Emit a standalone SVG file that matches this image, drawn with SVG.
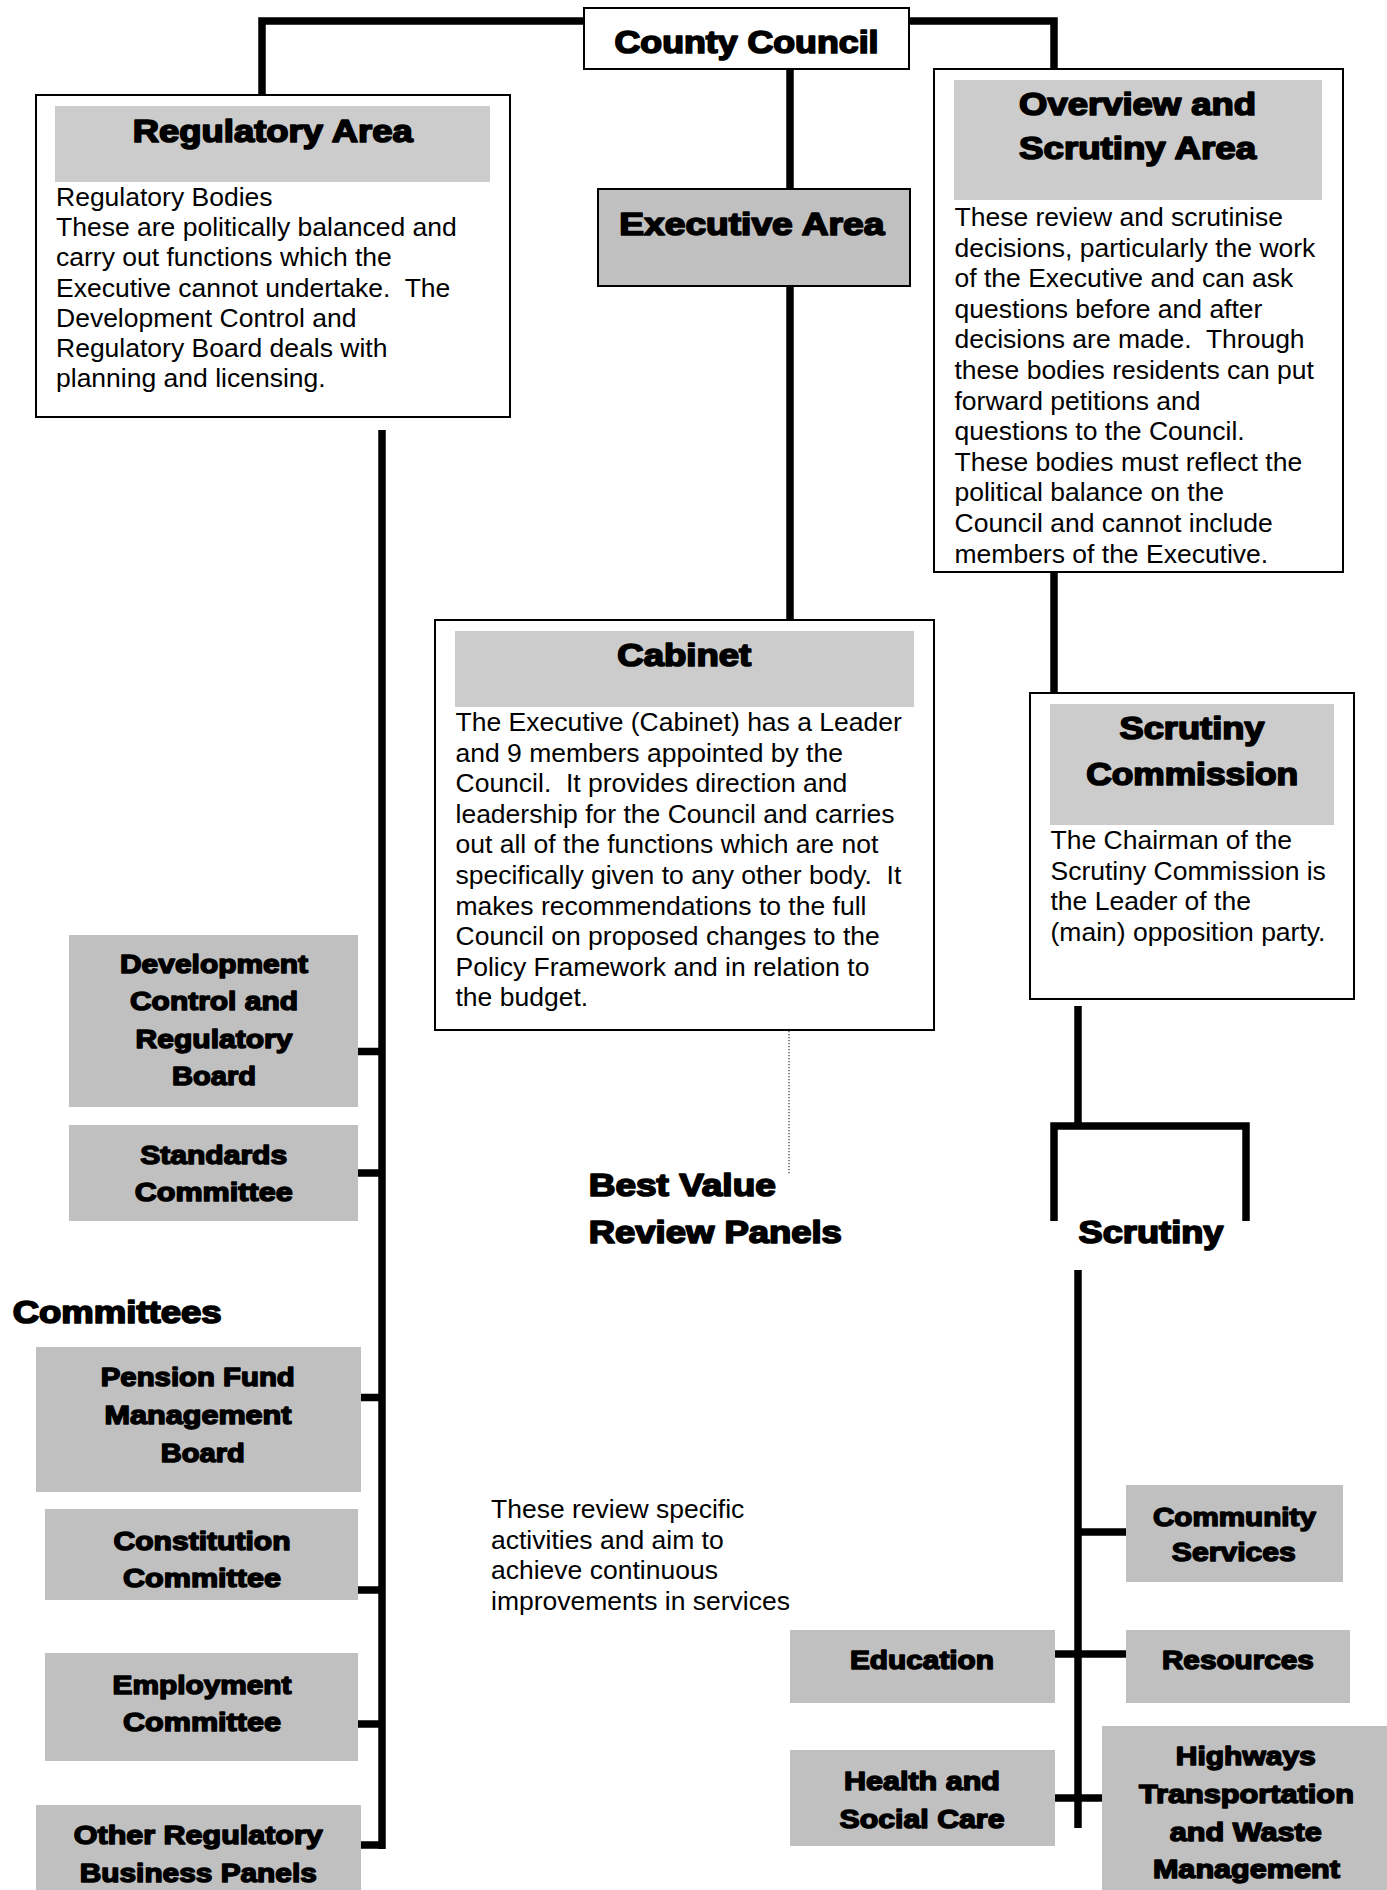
<svg xmlns="http://www.w3.org/2000/svg" width="1387" height="1890" viewBox="0 0 1387 1890">
<style>
.box{fill:#fff;stroke:#000;stroke-width:2}
.hdr{fill:#cccccc}
.gb{fill:#c0c0c0}
.gbs{fill:#c0c0c0;stroke:#000;stroke-width:2}
.ln{fill:none;stroke:#000;stroke-width:7.5}
.dot{fill:none;stroke:#444;stroke-width:1.3;stroke-dasharray:1.3 1.7}
.b{font-family:"Liberation Sans",Arial,sans-serif;font-size:26.5px;fill:#000;white-space:pre}
.h{font-family:"Liberation Sans",Arial,sans-serif;font-weight:bold;font-size:31px;fill:#000;stroke:#000;stroke-width:1.7;stroke-linejoin:round;text-anchor:middle}
.hs{font-family:"Liberation Sans",Arial,sans-serif;font-weight:bold;font-size:31px;fill:#000;stroke:#000;stroke-width:1.7;stroke-linejoin:round}
.l{font-family:"Liberation Sans",Arial,sans-serif;font-weight:bold;font-size:26.5px;fill:#000;stroke:#000;stroke-width:1.5;stroke-linejoin:round;text-anchor:middle}
</style>
<rect width="1387" height="1890" fill="#fff"/>

<g id="connectors">
<path class="ln" d="M584 21 H262 V95"/>
<path class="ln" d="M909 21 H1054 V69"/>
<path class="ln" d="M790 69 V189"/>
<path class="ln" d="M790 286 V620"/>
<path class="ln" d="M1054 572 V693"/>
<path class="ln" d="M382 430 V1849"/>
<path class="ln" d="M358 1051.5 H382 M358 1173 H382 M361 1397.5 H382 M358 1590 H382 M358 1724 H382 M361 1845 H382"/>
<path class="ln" d="M1078 1006 V1126"/>
<path class="ln" d="M1054 1221 V1126 H1246 V1221"/>
<path class="ln" d="M1078 1270 V1828"/>
<path class="ln" d="M1078 1532 H1126 M1055 1654 H1126 M1055 1798 H1102"/>
<path class="dot" d="M789 1031 V1174"/>
</g>

<g id="county-council">
<rect class="box" x="584" y="8" width="325" height="61"/>
<text class="h" x="746.5" y="53" textLength="264" lengthAdjust="spacingAndGlyphs">County Council</text>
</g>

<g id="regulatory-area">
<rect class="box" x="36" y="95" width="474" height="322"/>
<rect class="hdr" x="55" y="106" width="435" height="76"/>
<text class="h" x="272.8" y="141.5" textLength="280" lengthAdjust="spacingAndGlyphs">Regulatory Area</text>
<text class="b">
<tspan x="56" y="206">Regulatory Bodies</tspan>
<tspan x="56" y="236">These are politically balanced and</tspan>
<tspan x="56" y="266.3">carry out functions which the</tspan>
<tspan x="56" y="296.5">Executive cannot undertake.  The</tspan>
<tspan x="56" y="326.7">Development Control and</tspan>
<tspan x="56" y="356.8">Regulatory Board deals with</tspan>
<tspan x="56" y="387">planning and licensing.</tspan>
</text>
</g>

<g id="executive-area">
<rect class="gbs" x="598" y="189" width="312" height="97"/>
<text class="h" x="751.8" y="234.5" textLength="265" lengthAdjust="spacingAndGlyphs">Executive Area</text>
</g>

<g id="overview-scrutiny-area">
<rect class="box" x="934" y="69" width="409" height="503"/>
<rect class="hdr" x="954" y="80" width="368" height="120"/>
<text class="h" x="1137.6" y="115" textLength="237" lengthAdjust="spacingAndGlyphs">Overview and</text>
<text class="h" x="1137.6" y="159" textLength="237" lengthAdjust="spacingAndGlyphs">Scrutiny Area</text>
<text class="b">
<tspan x="954.5" y="226">These review and scrutinise</tspan>
<tspan x="954.5" y="256.6">decisions, particularly the work</tspan>
<tspan x="954.5" y="287.2">of the Executive and can ask</tspan>
<tspan x="954.5" y="317.8">questions before and after</tspan>
<tspan x="954.5" y="348.4">decisions are made.  Through</tspan>
<tspan x="954.5" y="379">these bodies residents can put</tspan>
<tspan x="954.5" y="409.6">forward petitions and</tspan>
<tspan x="954.5" y="440.2">questions to the Council.</tspan>
<tspan x="954.5" y="470.8">These bodies must reflect the</tspan>
<tspan x="954.5" y="501.4">political balance on the</tspan>
<tspan x="954.5" y="532">Council and cannot include</tspan>
<tspan x="954.5" y="562.6">members of the Executive.</tspan>
</text>
</g>

<g id="cabinet">
<rect class="box" x="435" y="620" width="499" height="410"/>
<rect class="hdr" x="455" y="631" width="459" height="76"/>
<text class="h" x="684.3" y="666.3" textLength="134" lengthAdjust="spacingAndGlyphs">Cabinet</text>
<text class="b">
<tspan x="455.5" y="731">The Executive (Cabinet) has a Leader</tspan>
<tspan x="455.5" y="761.6">and 9 members appointed by the</tspan>
<tspan x="455.5" y="792.2">Council.  It provides direction and</tspan>
<tspan x="455.5" y="822.8">leadership for the Council and carries</tspan>
<tspan x="455.5" y="853.4">out all of the functions which are not</tspan>
<tspan x="455.5" y="884">specifically given to any other body.  It</tspan>
<tspan x="455.5" y="914.6">makes recommendations to the full</tspan>
<tspan x="455.5" y="945.2">Council on proposed changes to the</tspan>
<tspan x="455.5" y="975.8">Policy Framework and in relation to</tspan>
<tspan x="455.5" y="1006.4">the budget.</tspan>
</text>
</g>

<g id="scrutiny-commission">
<rect class="box" x="1030" y="693" width="324" height="306"/>
<rect class="hdr" x="1050" y="704" width="284" height="121"/>
<text class="h" x="1192" y="739" textLength="145" lengthAdjust="spacingAndGlyphs">Scrutiny</text>
<text class="h" x="1192.2" y="784.5" textLength="212" lengthAdjust="spacingAndGlyphs">Commission</text>
<text class="b">
<tspan x="1050.5" y="849">The Chairman of the</tspan>
<tspan x="1050.5" y="879.6">Scrutiny Commission is</tspan>
<tspan x="1050.5" y="910.2">the Leader of the</tspan>
<tspan x="1050.5" y="940.8">(main) opposition party.</tspan>
</text>
</g>

<g id="best-value-review-panels">
<text class="hs" x="588.8" y="1195.7" textLength="187" lengthAdjust="spacingAndGlyphs">Best Value</text>
<text class="hs" x="588.8" y="1242.5" textLength="253" lengthAdjust="spacingAndGlyphs">Review Panels</text>
<text class="b">
<tspan x="491" y="1518">These review specific</tspan>
<tspan x="491" y="1548.6">activities and aim to</tspan>
<tspan x="491" y="1579.2">achieve continuous</tspan>
<tspan x="491" y="1609.8">improvements in services</tspan>
</text>
</g>

<g id="scrutiny">
<text class="hs" x="1078.5" y="1242.5" textLength="145" lengthAdjust="spacingAndGlyphs">Scrutiny</text>
</g>

<g id="committees-label">
<text class="hs" x="12.7" y="1323" textLength="209" lengthAdjust="spacingAndGlyphs">Committees</text>
</g>

<g id="development-control">
<rect class="gb" x="69" y="935" width="289" height="172"/>
<text class="l" x="214" y="972.5" textLength="188" lengthAdjust="spacingAndGlyphs">Development</text>
<text class="l" x="214" y="1010" textLength="168" lengthAdjust="spacingAndGlyphs">Control and</text>
<text class="l" x="214" y="1047.5" textLength="157" lengthAdjust="spacingAndGlyphs">Regulatory</text>
<text class="l" x="214" y="1085" textLength="84" lengthAdjust="spacingAndGlyphs">Board</text>
</g>

<g id="standards-committee">
<rect class="gb" x="69" y="1125" width="289" height="96"/>
<text class="l" x="213.7" y="1164" textLength="147" lengthAdjust="spacingAndGlyphs">Standards</text>
<text class="l" x="213.7" y="1201.3" textLength="158" lengthAdjust="spacingAndGlyphs">Committee</text>
</g>

<g id="pension-fund">
<rect class="gb" x="36" y="1347" width="325" height="145"/>
<text class="l" x="197.8" y="1386.2" textLength="194" lengthAdjust="spacingAndGlyphs">Pension Fund</text>
<text class="l" x="198" y="1424" textLength="187" lengthAdjust="spacingAndGlyphs">Management</text>
<text class="l" x="202.8" y="1462" textLength="84" lengthAdjust="spacingAndGlyphs">Board</text>
</g>

<g id="constitution-committee">
<rect class="gb" x="45" y="1509" width="313" height="91"/>
<text class="l" x="202" y="1550.3" textLength="177" lengthAdjust="spacingAndGlyphs">Constitution</text>
<text class="l" x="202" y="1587" textLength="158" lengthAdjust="spacingAndGlyphs">Committee</text>
</g>

<g id="employment-committee">
<rect class="gb" x="45" y="1653" width="313" height="108"/>
<text class="l" x="202" y="1694.3" textLength="179" lengthAdjust="spacingAndGlyphs">Employment</text>
<text class="l" x="202" y="1730.5" textLength="158" lengthAdjust="spacingAndGlyphs">Committee</text>
</g>

<g id="other-regulatory">
<rect class="gb" x="36" y="1805" width="325" height="90"/>
<text class="l" x="198.3" y="1844" textLength="249" lengthAdjust="spacingAndGlyphs">Other Regulatory</text>
<text class="l" x="198.3" y="1882" textLength="237" lengthAdjust="spacingAndGlyphs">Business Panels</text>
</g>

<g id="community-services">
<rect class="gb" x="1126" y="1485" width="217" height="97"/>
<text class="l" x="1234.4" y="1525.7" textLength="163" lengthAdjust="spacingAndGlyphs">Community</text>
<text class="l" x="1233.8" y="1561" textLength="124" lengthAdjust="spacingAndGlyphs">Services</text>
</g>

<g id="education">
<rect class="gb" x="790" y="1630" width="265" height="73"/>
<text class="l" x="922" y="1669.3" textLength="144" lengthAdjust="spacingAndGlyphs">Education</text>
</g>

<g id="resources">
<rect class="gb" x="1126" y="1630" width="224" height="73"/>
<text class="l" x="1237.9" y="1669.3" textLength="152" lengthAdjust="spacingAndGlyphs">Resources</text>
</g>

<g id="health-social-care">
<rect class="gb" x="790" y="1750" width="265" height="96"/>
<text class="l" x="922" y="1790.2" textLength="156" lengthAdjust="spacingAndGlyphs">Health and</text>
<text class="l" x="922" y="1828" textLength="165" lengthAdjust="spacingAndGlyphs">Social Care</text>
</g>

<g id="highways">
<rect class="gb" x="1102" y="1726" width="290" height="170"/>
<text class="l" x="1245.8" y="1765" textLength="140" lengthAdjust="spacingAndGlyphs">Highways</text>
<text class="l" x="1246.4" y="1802.8" textLength="215" lengthAdjust="spacingAndGlyphs">Transportation</text>
<text class="l" x="1245.8" y="1840.6" textLength="152" lengthAdjust="spacingAndGlyphs">and Waste</text>
<text class="l" x="1246.4" y="1878.4" textLength="187" lengthAdjust="spacingAndGlyphs">Management</text>
</g>
</svg>
